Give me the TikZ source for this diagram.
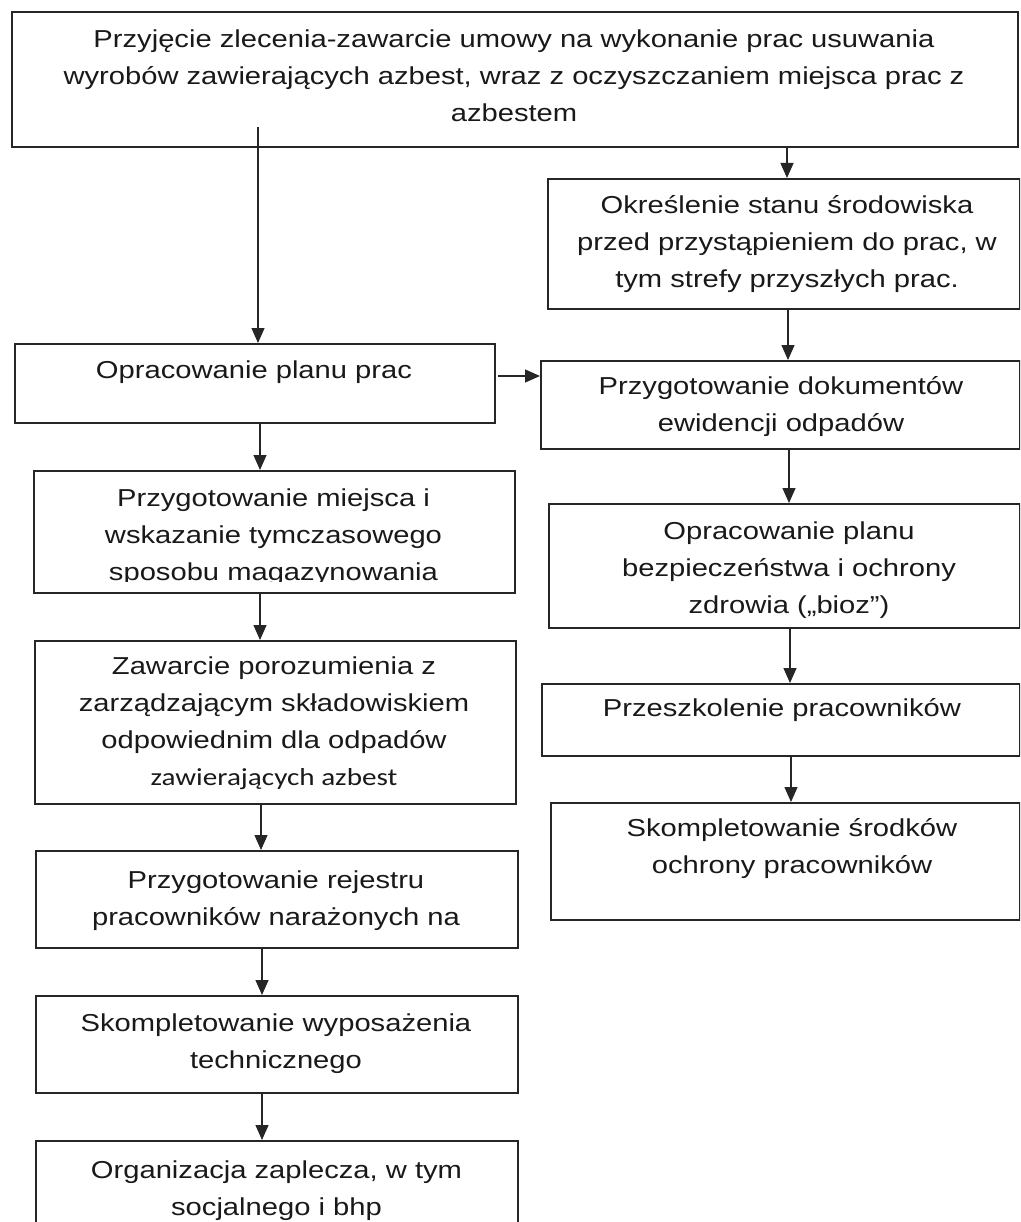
\documentclass[tikz,border=0pt]{standalone}
\usepackage{fontspec}
\setmainfont{Liberation Sans}[FakeStretch=1.19]
\newfontfamily\calfont{Carlito}[FakeStretch=1.19]
\usetikzlibrary{arrows.meta}
\tikzset{
  box/.style={draw=black!85, line width=1.6pt, inner sep=0pt, anchor=north west},
  txt/.style={font=\fontsize{24.5}{37}\selectfont, align=center, inner sep=0pt, anchor=north, text=black!90},
  arr/.style={draw=black!85, line width=1.2pt, -{Triangle[length=15pt,width=13pt]}}
}
\newcommand{\boxat}[5]{\node[box, minimum width=#4pt-#2pt, minimum height=#5pt-#3pt] (#1) at (#2,#3) {};}
\begin{document}
\begin{tikzpicture}[x=1pt,y=-1pt]
\clip (0,0) rectangle (1020,1222);
\useasboundingbox (0,0) rectangle (1020,1222);
% boxes
\boxat{top}{11}{11}{1017}{146}
\boxat{okr}{547}{178}{1019}{308}
\boxat{plan}{14}{343}{494}{422}
\boxat{dok}{540}{360}{1019}{448}
\boxat{miejsca}{33}{470}{514}{592}
\boxat{bioz}{548}{503}{1019}{627}
\boxat{szkol}{541}{683}{1019}{755}
\boxat{srodki}{550}{802}{1019}{919}
\boxat{zaw}{34}{640}{515}{803}
\boxat{rej}{35}{850}{517}{947}
\boxat{wyp}{35}{995}{517}{1092}
\boxat{org}{35}{1140}{517}{1250}
% texts
\node[txt] (ttop) at (514,21) {\strut Przyjęcie zlecenia-zawarcie umowy na wykonanie prac usuwania\\wyrobów zawierających azbest, wraz z oczyszczaniem miejsca prac z\\azbestem};
\node[txt] (tokr) at (787,187) {\strut Określenie stanu środowiska\\przed przystąpieniem do prac, w\\tym strefy przyszłych prac.};
\node[txt] (tplan) at (254,352) {\strut Opracowanie planu prac};
\node[txt] (tdok) at (781,368) {\strut Przygotowanie dokumentów\\ewidencji odpadów};
\begin{scope}
\clip (33,470) rectangle (514,581);
\node[txt] (tmiejsca) at (273.5,480) {\strut Przygotowanie miejsca i\\wskazanie tymczasowego\\sposobu magazynowania};
\end{scope}
\node[txt] (tbioz) at (789,513) {\strut Opracowanie planu\\bezpieczeństwa i ochrony\\zdrowia („bioz”)};
\node[txt] (tszkol) at (782,690) {\strut Przeszkolenie pracowników};
\node[txt] (tsrodki) at (792,810) {\strut Skompletowanie środków\\ochrony pracowników};
\node[txt] (tzaw) at (274,648) {\strut Zawarcie porozumienia z\\zarządzającym składowiskiem\\odpowiednim dla odpadów\\{\calfont zawierających azbest}};
\node[txt] (trej) at (276,862) {\strut Przygotowanie rejestru\\pracowników narażonych na};
\node[txt] (twyp) at (276,1005) {\strut Skompletowanie wyposażenia\\technicznego};
\node[txt] (torg) at (276.5,1152) {\strut Organizacja zaplecza, w tym\\socjalnego i bhp};
% column coordinates
\coordinate (r1) at (787,0);
\coordinate (r2) at (788,0);
\coordinate (r3) at (789,0);
\coordinate (r4) at (790,0);
\coordinate (r5) at (791,0);
\coordinate (ls) at (258,127);
\coordinate (l1) at (260,0);
\coordinate (l2) at (260,0);
\coordinate (l3) at (261,0);
\coordinate (l4) at (262,0);
\coordinate (l5) at (262,0);
\coordinate (hs) at (498,376);
% connectors
\draw[arr] (top.south -| r1) -- (okr.north -| r1);
\draw[arr] (okr.south -| r2) -- (dok.north -| r2);
\draw[arr] (dok.south -| r3) -- (bioz.north -| r3);
\draw[arr] (bioz.south -| r4) -- (szkol.north -| r4);
\draw[arr] (szkol.south -| r5) -- (srodki.north -| r5);
\draw[arr] (ls) -- (plan.north -| ls);
\draw[arr] (hs) -- (dok.west |- hs);
\draw[arr] (plan.south -| l1) -- (miejsca.north -| l1);
\draw[arr] (miejsca.south -| l2) -- (zaw.north -| l2);
\draw[arr] (zaw.south -| l3) -- (rej.north -| l3);
\draw[arr] (rej.south -| l4) -- (wyp.north -| l4);
\draw[arr] (wyp.south -| l5) -- (org.north -| l5);
\end{tikzpicture}
\end{document}
